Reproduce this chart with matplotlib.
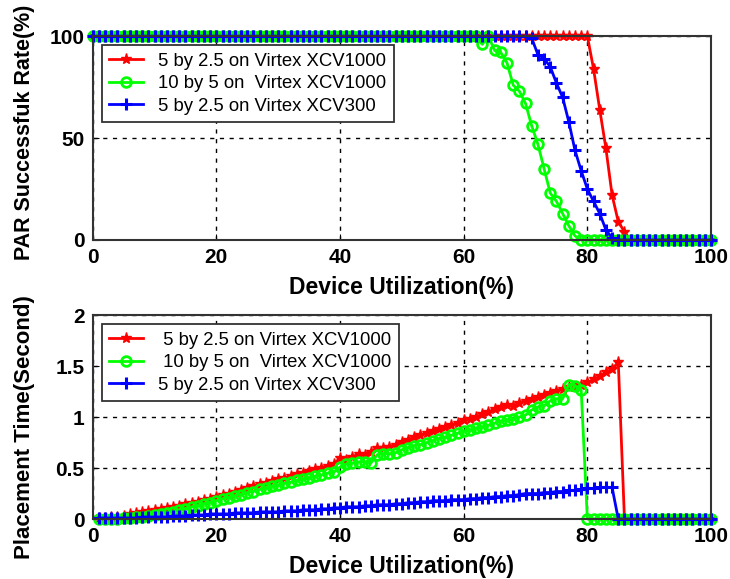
import numpy as np
import matplotlib
matplotlib.use('Agg')
import matplotlib.pyplot as plt

plt.rcParams['font.family'] = ['Liberation Sans', 'DejaVu Sans']

# device utilization (%)
util_top = np.arange(0, 101)
util_bot = np.arange(1, 101)

# PAR successful rate (%)
rate_xcv1000_5 = [100] * 81 + [84, 64, 45, 22, 9, 4] + [0] * 14
rate_xcv1000_10 = [100] * 63 + [96, 100, 93, 92, 87, 76, 73, 67, 56, 47, 35, 23, 19, 13, 7, 2] + [0] * 22
rate_xcv300_5 = [100] * 71 + [99, 91, 89, 85, 77, 70, 58, 44, 34, 25, 19, 13, 5, 1] + [0] * 16

# placement time (s)
time_xcv1000_5 = [0.01, 0.01, 0.02, 0.02, 0.03, 0.05, 0.06, 0.07, 0.08, 0.09,
                  0.10, 0.11, 0.12, 0.13, 0.15, 0.16, 0.17, 0.19, 0.20, 0.22,
                  0.24, 0.25, 0.27, 0.28, 0.30, 0.32, 0.34, 0.35, 0.37, 0.39,
                  0.40, 0.42, 0.44, 0.45, 0.47, 0.49, 0.50, 0.52, 0.54, 0.60,
                  0.58, 0.61, 0.64, 0.63, 0.66, 0.70, 0.70, 0.71, 0.73, 0.76,
                  0.78, 0.80, 0.82, 0.84, 0.86, 0.88, 0.90, 0.92, 0.94, 0.97,
                  0.98, 1.00, 1.03, 1.05, 1.08, 1.10, 1.12, 1.11, 1.14, 1.16,
                  1.18, 1.20, 1.22, 1.24, 1.26, 1.28, 1.30, 1.30, 1.32, 1.34,
                  1.37, 1.40, 1.44, 1.47, 1.54] + [0] * 15
time_xcv1000_10 = [0.00, 0.00, 0.00, 0.00, 0.01, 0.01, 0.02, 0.02, 0.03, 0.04,
                   0.05, 0.06, 0.07, 0.09, 0.10, 0.12, 0.13, 0.15, 0.16, 0.18,
                   0.20, 0.21, 0.23, 0.24, 0.26, 0.27, 0.29, 0.30, 0.32, 0.33,
                   0.35, 0.36, 0.38, 0.39, 0.40, 0.42, 0.43, 0.45, 0.46, 0.51,
                   0.54, 0.55, 0.56, 0.56, 0.55, 0.63, 0.64, 0.64, 0.65, 0.68,
                   0.70, 0.72, 0.73, 0.75, 0.77, 0.79, 0.80, 0.82, 0.84, 0.86,
                   0.87, 0.89, 0.90, 0.92, 0.94, 0.96, 0.97, 0.98, 1.00, 1.02,
                   1.07, 1.10, 1.11, 1.16, 1.18, 1.18, 1.32, 1.31, 1.27] + [0] * 21
time_xcv300_5 = [0.01, 0.01, 0.01, 0.01, 0.01, 0.01, 0.01, 0.02, 0.02, 0.02,
                 0.02, 0.02, 0.03, 0.03, 0.03, 0.04, 0.04, 0.04, 0.05, 0.05,
                 0.05, 0.05, 0.06, 0.06, 0.06, 0.06, 0.07, 0.07, 0.07, 0.07,
                 0.08, 0.08, 0.08, 0.09, 0.09, 0.09, 0.10, 0.10, 0.11, 0.11,
                 0.12, 0.12, 0.12, 0.13, 0.13, 0.14, 0.14, 0.14, 0.15, 0.15,
                 0.16, 0.16, 0.17, 0.17, 0.18, 0.18, 0.18, 0.19, 0.19, 0.19,
                 0.20, 0.20, 0.21, 0.21, 0.22, 0.22, 0.23, 0.23, 0.24, 0.25,
                 0.25, 0.25, 0.26, 0.26, 0.27, 0.27, 0.28, 0.28, 0.29, 0.30,
                 0.30, 0.31, 0.31, 0.31] + [0] * 16

labels_top = ['5 by 2.5 on Virtex XCV1000', '10 by 5 on  Virtex XCV1000', '5 by 2.5 on Virtex XCV300']
labels_bot = [' 5 by 2.5 on Virtex XCV1000', ' 10 by 5 on  Virtex XCV1000', '5 by 2.5 on Virtex XCV300']


def style_axes(ax):
    ax.grid(True, color='k', linestyle=(0, (3, 4)), linewidth=1)
    ax.set_xlim(0, 100)
    ax.set_xticks([0, 20, 40, 60, 80, 100])
    ax.tick_params(direction='in', length=4, labelsize=15, pad=6)
    for lab in ax.get_xticklabels() + ax.get_yticklabels():
        lab.set_fontweight('bold')
    for s in ax.spines.values():
        s.set_linewidth(1.5)
        s.set_color('#333333')
    ax.set_xlabel('Device Utilization(%)', fontsize=16.5, fontweight='bold', labelpad=6)


def draw(ax, x, series, labels):
    ax.plot(x, series[0], '-*', color='#ff0000', lw=2, ms=8, label=labels[0])
    ax.plot(x, series[1], '-o', color='#00ff00', lw=2, ms=7, mfc='none', mew=2, label=labels[1])
    ax.plot(x, series[2], '-+', color='#0000ff', lw=2, ms=9, mew=2.2, label=labels[2])
    leg = ax.legend(loc='upper left', bbox_to_anchor=(0.015, 0.955), borderaxespad=0,
                    fontsize=13.3, fancybox=False, framealpha=1, edgecolor='#333333',
                    handlelength=1.8, borderpad=0.4, labelspacing=0.3, handletextpad=0.85)
    leg.get_frame().set_linewidth(1.3)


fig = plt.figure(figsize=(7.30, 5.79), dpi=100)
ax1 = fig.add_axes([0.127, 0.5855, 0.847, 0.352])
ax2 = fig.add_axes([0.127, 0.1036, 0.847, 0.352])

draw(ax1, util_top, [rate_xcv1000_5, rate_xcv1000_10, rate_xcv300_5], labels_top)
style_axes(ax1)
ax1.set_ylim(0, 100)
ax1.set_yticks([0, 50, 100])
for lab in ax1.get_yticklabels():
    lab.set_fontweight('bold')
ax1.set_ylabel('PAR Successfuk Rate(%)', fontsize=15.5, fontweight='bold')
ax1.yaxis.set_label_coords(-0.094, 0.53)

draw(ax2, util_bot, [time_xcv1000_5, time_xcv1000_10, time_xcv300_5], labels_bot)
style_axes(ax2)
ax2.set_ylim(0, 2)
ax2.set_yticks([0, 0.5, 1, 1.5, 2])
ax2.set_yticklabels(['0', '0.5', '1', '1.5', '2'], fontweight='bold')
ax2.set_ylabel('Placement Time(Second)', fontsize=16, fontweight='bold')
ax2.yaxis.set_label_coords(-0.094, 0.45)

for ax in (ax1, ax2):
    for line in ax.get_lines():
        line.set_clip_on(False)

fig.savefig('out.png', dpi=100)
